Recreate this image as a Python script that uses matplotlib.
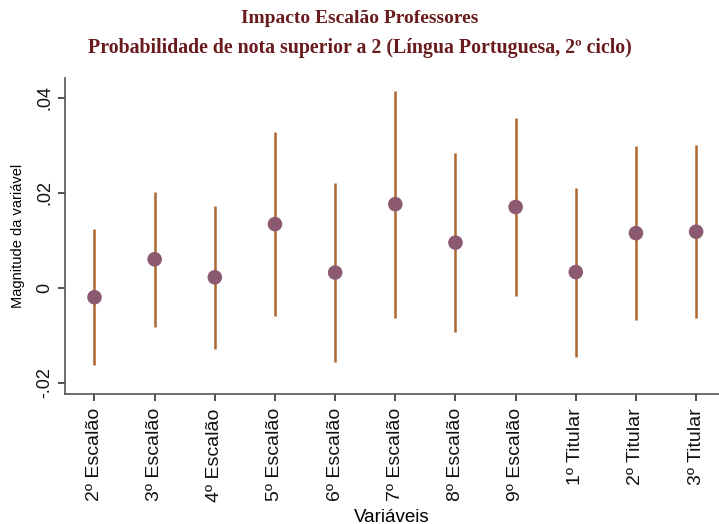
import matplotlib
matplotlib.use("Agg")
import matplotlib.pyplot as plt

# Coefficient estimates with confidence intervals
categories = ["2º Escalão", "3º Escalão", "4º Escalão", "5º Escalão", "6º Escalão",
              "7º Escalão", "8º Escalão", "9º Escalão", "1º Titular", "2º Titular", "3º Titular"]
estimate = [-0.0020, 0.0060, 0.0022, 0.0134, 0.0032, 0.0176, 0.0095, 0.0170, 0.0033, 0.0115, 0.0118]
ci_low = [-0.0163, -0.0082, -0.0130, -0.0060, -0.0156, -0.0063, -0.0093, -0.0018, -0.0145, -0.0068, -0.0064]
ci_high = [0.0124, 0.0202, 0.0173, 0.0329, 0.0220, 0.0415, 0.0283, 0.0357, 0.0211, 0.0298, 0.0300]
yticks = [-0.02, 0, 0.02, 0.04]
ytick_labels = ["-.02", "0", ".02", ".04"]

plt.rcParams["font.family"] = ["Liberation Sans", "DejaVu Sans"]

fig = plt.figure(figsize=(7.19, 5.24), dpi=100)
ax = fig.add_axes([0.0904, 0.2475, 0.9096, 0.6035])

x = list(range(len(categories)))
ax.vlines(x, ci_low, ci_high, color="#ad662f", linewidth=1.8, zorder=2)
ax.scatter(x, estimate, s=110, color="#8c5a70", edgecolors="none", zorder=3)

ax.set_xlim(-0.49, 10.38)
ax.set_ylim(-0.02244, 0.04415)
ax.set_xticks(x)
ax.set_xticklabels(categories, rotation=90, fontsize=14)
ax.set_yticks(yticks)
ax.set_yticklabels(ytick_labels, rotation=90, fontsize=13, va="center")

for side in ("top", "right"):
    ax.spines[side].set_visible(False)
for side in ("left", "bottom"):
    ax.spines[side].set_color("#555555")
    ax.spines[side].set_linewidth(1.2)
ax.tick_params(axis="both", length=5, width=1.2, color="#333333", labelcolor="#111111")
ax.tick_params(axis="x", pad=5)

ax.set_ylabel("Magnitude da variável", fontsize=10.5, labelpad=8)
ax.set_xlabel("Variáveis", fontsize=13.5, labelpad=5)

title_font = ["Liberation Serif", "DejaVu Serif"]
fig.text(0.5, 0.964, "Impacto Escalão Professores", ha="center", va="center",
         family=title_font, fontweight="bold", fontsize=14, color="#6a1b1e")
fig.text(0.5, 0.909, "Probabilidade de nota superior a 2 (Língua Portuguesa, 2º ciclo)",
         ha="center", va="center", family=title_font,
         fontweight="bold", fontsize=14.3, color="#6a1b1e")

fig.savefig("out.png", dpi=100, facecolor="white")
